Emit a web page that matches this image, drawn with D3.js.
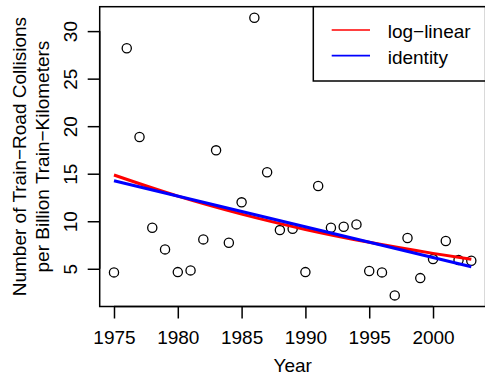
<!DOCTYPE html>
<html>
<head>
<meta charset="utf-8">
<script src="https://cdn.jsdelivr.net/npm/d3@7"></script>
<style>
  body { margin: 0; background: #fff; }
  svg { display: block; font-family: "Liberation Sans", Arial, sans-serif; }
</style>
</head>
<body>
<div id="chart"></div>
<script>
const years = [1975, 1976, 1977, 1978, 1979, 1980, 1981, 1982, 1983, 1984,
  1985, 1986, 1987, 1988, 1989, 1990, 1991, 1992, 1993, 1994,
  1995, 1996, 1997, 1998, 1999, 2000, 2001, 2002, 2003];
const rates = [4.62, 28.2, 18.86, 9.32, 7.04, 4.65, 4.83, 8.09, 17.46, 7.74,
  11.99, 31.4, 15.15, 9.07, 9.21, 4.65, 13.7, 9.32, 9.42, 9.67,
  4.76, 4.62, 2.2, 8.23, 4.02, 6.02, 7.92, 5.92, 5.84];

// fitted curves
const logLinearYears = [1975, 1980, 1985, 1990, 1995, 2000, 2003];
const logLinearFit = [14.86, 12.64, 10.75, 9.14, 7.78, 6.62, 5.99];
const identityYears = [1975, 2003];
const identityFit = [14.26, 5.21];

const xTicks = [1975, 1980, 1985, 1990, 1995, 2000];
const yTicks = [5, 10, 15, 20, 25, 30];
const legendLabels = ["log\u2212linear", "identity"];
const legendColors = ["#ff0000", "#0000ff"];

const width = 485, height = 375;
const plot = { left: 99.7, right: 485.6, top: 6.7, bottom: 306.5 };
const fontSize = 19;
const tickLen = 12;

// R style 4% padding on the data range
function padded(vals) {
  const [a, b] = d3.extent(vals);
  const p = (b - a) * 0.04;
  return [a - p, b + p];
}

const x = d3.scaleLinear().domain(padded(years)).range([plot.left, plot.right]);
const y = d3.scaleLinear().domain(padded(rates)).range([plot.bottom, plot.top]);

const svg = d3.select("#chart").append("svg")
  .attr("width", width)
  .attr("height", height);

// points
svg.append("g")
  .selectAll("circle")
  .data(years.map((yr, i) => ({ yr: yr, v: rates[i] })))
  .enter()
  .append("circle")
  .attr("cx", d => x(d.yr))
  .attr("cy", d => y(d.v))
  .attr("r", 4.6)
  .attr("fill", "none")
  .attr("stroke", "#000")
  .attr("stroke-width", 1.3);

// fitted lines
const line = d3.line()
  .x(d => x(d[0]))
  .y(d => y(d[1]))
  .curve(d3.curveMonotoneX);

svg.append("path")
  .attr("d", line(logLinearYears.map((yr, i) => [yr, logLinearFit[i]])))
  .attr("fill", "none")
  .attr("stroke", legendColors[0])
  .attr("stroke-width", 3);

svg.append("path")
  .attr("d", line(identityYears.map((yr, i) => [yr, identityFit[i]])))
  .attr("fill", "none")
  .attr("stroke", legendColors[1])
  .attr("stroke-width", 3);

// box
svg.append("rect")
  .attr("x", plot.left)
  .attr("y", plot.top)
  .attr("width", plot.right - plot.left)
  .attr("height", plot.bottom - plot.top)
  .attr("fill", "none")
  .attr("stroke", "#000")
  .attr("stroke-width", 1.5);

// x axis
const xAxis = svg.append("g")
  .attr("transform", "translate(0," + plot.bottom + ")")
  .call(d3.axisBottom(x).tickValues(xTicks).tickSize(tickLen).tickSizeOuter(0).tickPadding(0).tickFormat(d3.format("d")));
xAxis.select(".domain")
  .attr("d", "M" + x(xTicks[0]) + ",0H" + x(xTicks[xTicks.length - 1]))
  .attr("stroke-width", 1.5);
xAxis.selectAll(".tick line").attr("stroke-width", 1.5);
xAxis.selectAll(".tick text")
  .attr("y", 37.5)
  .attr("dy", null)
  .attr("fill", "#000")
  .style("font-size", fontSize + "px")
  .style("font-family", "'Liberation Sans', Arial, sans-serif");

// y axis
const yAxis = svg.append("g")
  .attr("transform", "translate(" + plot.left + ",0)")
  .call(d3.axisLeft(y).tickValues(yTicks).tickSize(tickLen).tickSizeOuter(0).tickFormat(d3.format("d")));
yAxis.select(".domain")
  .attr("d", "M0," + y(yTicks[0]) + "V" + y(yTicks[yTicks.length - 1]))
  .attr("stroke-width", 1.5);
yAxis.selectAll(".tick line").attr("stroke-width", 1.5);
yAxis.selectAll(".tick text")
  .attr("x", null)
  .attr("dy", null)
  .attr("text-anchor", "middle")
  .attr("transform", "translate(-22.7,0) rotate(-90)")
  .attr("fill", "#000")
  .style("font-size", fontSize + "px")
  .style("font-family", "'Liberation Sans', Arial, sans-serif");

// axis titles
const midX = (plot.left + plot.right) / 2;
const midY = (plot.top + plot.bottom) / 2;
svg.append("text")
  .attr("x", midX)
  .attr("y", 372.3)
  .attr("text-anchor", "middle")
  .style("font-size", fontSize + "px")
  .text("Year");

svg.append("text")
  .attr("transform", "translate(26," + midY + ") rotate(-90)")
  .attr("text-anchor", "middle")
  .style("font-size", fontSize + "px")
  .text("Number of Train\u2212Road Collisions");
svg.append("text")
  .attr("transform", "translate(48.5," + midY + ") rotate(-90)")
  .attr("text-anchor", "middle")
  .style("font-size", fontSize + "px")
  .text("per Billion Train\u2212Kilometers");

// legend
const legend = svg.append("g");
legend.append("rect")
  .attr("x", 313.3)
  .attr("y", plot.top)
  .attr("width", plot.right - 313.3)
  .attr("height", 81 - plot.top)
  .attr("fill", "#fff")
  .attr("stroke", "#000")
  .attr("stroke-width", 1.5);
const item = legend.selectAll("g.item")
  .data(legendLabels)
  .enter()
  .append("g")
  .attr("class", "item")
  .attr("transform", (d, i) => "translate(0," + (30 + i * 25.7) + ")");
item.append("line")
  .attr("x1", 331.7)
  .attr("x2", 370)
  .attr("stroke", (d, i) => legendColors[i])
  .attr("stroke-width", 1.7);
item.append("text")
  .attr("x", 387.7)
  .attr("y", 8.3)
  .style("font-size", fontSize + "px")
  .text(d => d);
</script>
</body>
</html>
